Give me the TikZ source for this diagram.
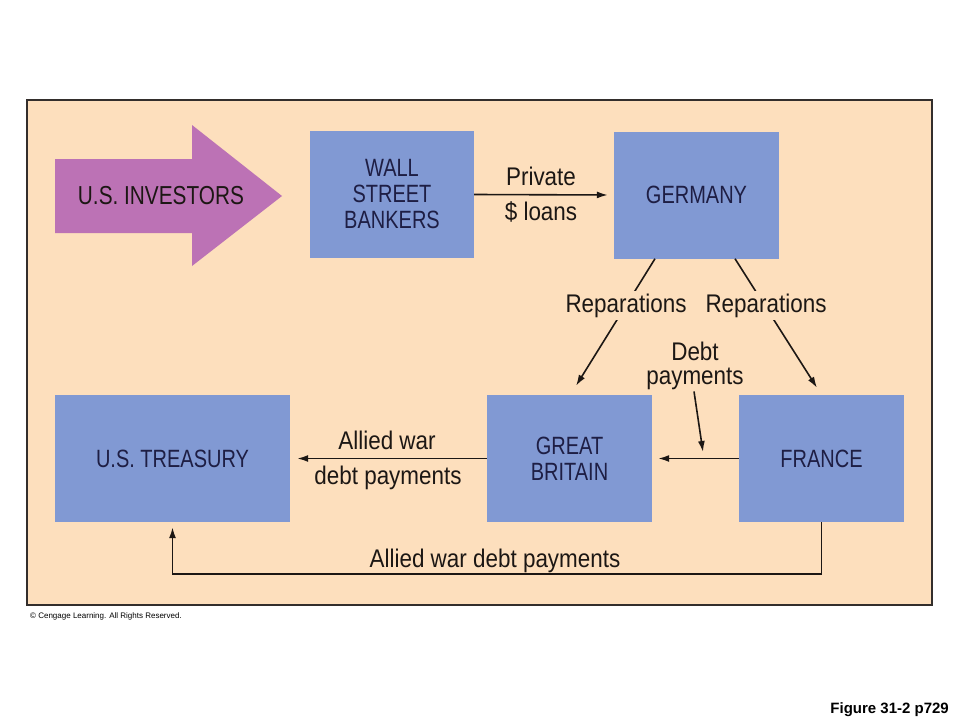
\documentclass[tikz,border=0pt]{standalone}
\usepackage{fontspec}
\setmainfont[FakeStretch=0.88]{Liberation Sans}
\newfontfamily\boxfont[FakeStretch=0.8]{Liberation Sans}
\newfontfamily\plainsf{Liberation Sans}
\usetikzlibrary{arrows.meta,positioning}
\definecolor{peach}{HTML}{FDDFBD}
\definecolor{boxblue}{HTML}{8199D3}
\definecolor{invest}{HTML}{BC72B5}
\definecolor{navy}{HTML}{1E1E44}
\definecolor{ink}{HTML}{1C1714}

\begin{document}
\begin{tikzpicture}[
  x=1pt,y=-1pt,
  >={Latex[length=11pt,width=7pt]},
  every node/.style={font=\fontsize{25.5}{26}\selectfont,text=ink},
  nation/.style={fill=boxblue,text=navy,inner sep=0pt,align=center,
                 font=\boxfont\fontsize{25}{26}\selectfont,
                 minimum width=165pt,minimum height=127pt},
  lbl/.style={anchor=base,inner sep=0pt},
  cut/.style={fill=peach,inner sep=3pt},
  flow/.style={draw=ink,line width=1.6pt,->}
]
\useasboundingbox[fill=white] (0,0) rectangle (960,720);
\draw[fill=peach,draw=ink!90,line width=1.8pt] (27,100) rectangle (932,605);

%% investors arrow
\fill[invest] (55,159) -- (192,159) -- (192,125) -- (282,196)
  -- (192,266) -- (192,233) -- (55,233) -- cycle;
\node[font=\boxfont\fontsize{26}{26}\selectfont] (inv) at (161,196) {U.S. INVESTORS};

%% top row
\node[nation,minimum width=164pt] (wall) at (392,194.5) {WALL\\STREET\\BANKERS};
\node[nation] (germany) at (696.5,195) {GERMANY};

%% bottom row
\node[nation,minimum width=235pt] (treasury) at (172.5,458.5) {U.S. TREASURY};
\node[nation] (gb) at (569.5,458.5) {GREAT\\BRITAIN};
\node[nation] (france) at (821.5,458.5) {FRANCE};

%% labels
\node[lbl] (lpriv) at (541,185) {Private};
\node[lbl] (lloan) at (541,220) {\$ loans};
\node[lbl] (ldebt) at (695,360) {Debt};
\node[lbl] (lpay)  at (695,384) {payments};
\node[lbl] (lally1) at (387,449) {Allied war};
\node[lbl] (lally2) at (388,484) {debt payments};
\node[lbl] (lally3) at (495,567) {Allied war debt payments};
\coordinate (dhead) at (703,452);

%% Arrows
\draw[flow,shorten >=6pt] (wall.east) -- (germany.west);
\draw[flow] ([xshift=-41.5pt]germany.south) -- ([xshift=6.5pt,yshift=9pt]gb.north);
\draw[flow] ([xshift=38.5pt]germany.south) -- ([xshift=-4.5pt,yshift=7pt]france.north);
\draw[flow,shorten >=6pt] (france.west) -- (france.west -| gb.east);
\draw[flow] ([xshift=-1pt,yshift=-2pt]lpay.south) -- (dhead);
\draw[flow,shorten >=7pt] (gb.west) -- (gb.west -| treasury.east);
\draw[flow] (france.south) -- ++(0,52) -| ([yshift=-5pt]treasury.south);

%% labels that cut the reparation lines
\node[lbl,cut] (lrep1) at (626,312) {Reparations};
\node[lbl,cut] (lrep2) at (766,312) {Reparations};

\node[anchor=base west,inner sep=0pt,text=black,
      font=\plainsf\fontsize{8}{9}\selectfont] (copy) at (30,618)
  {© Cengage Learning. All Rights Reserved.};
\node[anchor=base east,inner sep=0pt,text=black,
      font=\plainsf\bfseries\fontsize{15}{17}\selectfont] (fig) at (949,713)
  {Figure 31-2 p729};
\end{tikzpicture}
\end{document}
